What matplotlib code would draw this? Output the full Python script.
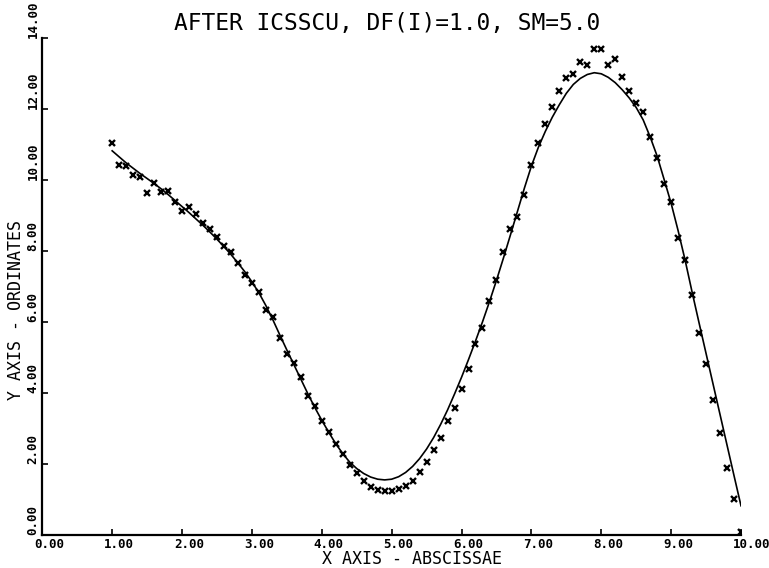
import numpy as np
import matplotlib
matplotlib.use("Agg")
import matplotlib.pyplot as plt
from matplotlib.transforms import ScaledTranslation

# data (x from 1.0 to 10.0 in steps of 0.1)
x_data = [round(1.0 + 0.1 * i, 1) for i in range(91)]
y_data = [11.04, 10.43, 10.40, 10.15, 10.08, 9.65, 9.92, 9.68, 9.70, 9.40,
          9.14, 9.24, 9.05, 8.79, 8.62, 8.41, 8.15, 7.99, 7.68, 7.33,
          7.12, 6.86, 6.35, 6.14, 5.55, 5.10, 4.85, 4.47, 3.92, 3.64,
          3.23, 2.90, 2.57, 2.29, 1.98, 1.76, 1.54, 1.37, 1.28, 1.25,
          1.25, 1.30, 1.39, 1.53, 1.77, 2.06, 2.40, 2.73, 3.23, 3.59,
          4.11, 4.68, 5.38, 5.83, 6.61, 7.19, 7.99, 8.62, 8.96, 9.59,
          10.43, 11.06, 11.58, 12.06, 12.52, 12.89, 12.99, 13.32, 13.25, 13.70,
          13.70, 13.25, 13.42, 12.92, 12.52, 12.19, 11.93, 11.21, 10.64, 9.89,
          9.40, 8.37, 7.75, 6.77, 5.71, 4.83, 3.81, 2.87, 1.90, 1.01,
          0.10]
# smoothed curve (ICSSCU result) at the same x
y_fit = [10.83, 10.66, 10.49, 10.34, 10.19, 10.05, 9.91, 9.76, 9.60, 9.43,
         9.26, 9.09, 8.91, 8.73, 8.54, 8.34, 8.13, 7.91, 7.67, 7.42,
         7.14, 6.83, 6.47, 6.07, 5.64, 5.22, 4.81, 4.40, 3.99, 3.60,
         3.24, 2.90, 2.58, 2.30, 2.06, 1.88, 1.74, 1.64, 1.58, 1.56,
         1.58, 1.65, 1.77, 1.94, 2.16, 2.43, 2.75, 3.12, 3.53, 3.98,
         4.45, 4.95, 5.47, 6.01, 6.58, 7.18, 7.81, 8.46, 9.12, 9.78,
         10.40, 10.93, 11.38, 11.78, 12.13, 12.45, 12.70, 12.87, 12.98, 13.03,
         13.00, 12.90, 12.75, 12.55, 12.32, 12.05, 11.70, 11.22, 10.68, 10.02,
         9.35, 8.58, 7.75, 6.85, 5.98, 5.12, 4.26, 3.40, 2.54, 1.68,
         0.83]

x_ticks = [0, 1, 2, 3, 4, 5, 6, 7, 8, 9, 10]
y_ticks = [0, 2, 4, 6, 8, 10, 12, 14]

mono = "DejaVu Sans Mono"

fig = plt.figure(figsize=(7.69, 5.68), dpi=100)
ax = fig.add_axes([0.055, 0.0576, 0.9086, 0.875])

ax.plot(x_data, y_fit, color="black", lw=1.2)
ax.plot(x_data, y_data, "x", color="black", ms=5, mew=1.7)

ax.set_xlim(0, 10)
ax.set_ylim(0, 14)
ax.spines["top"].set_visible(False)
ax.spines["right"].set_visible(False)
for s in ("left", "bottom"):
    ax.spines[s].set_linewidth(1.6)

ax.set_xticks(x_ticks)
ax.set_xticklabels(["%.2f" % v for v in x_ticks], fontfamily=mono,
                   fontweight="bold", fontsize=9)
ax.set_yticks(y_ticks)
ax.set_yticklabels(["%.2f" % v for v in y_ticks], fontfamily=mono,
                   fontweight="bold", fontsize=9, rotation=90, va="bottom")
ax.tick_params(direction="in", length=4, width=1.2, pad=2)

shift = ScaledTranslation(-8 / 100, 0, fig.dpi_scale_trans)
for lab in ax.get_xticklabels():
    lab.set_horizontalalignment("left")
    lab.set_transform(lab.get_transform() + shift)

fig.text(0.504, 0.9595, "AFTER ICSSCU, DF(I)=1.0, SM=5.0", fontfamily=mono,
         fontsize=16.5, ha="center", va="center")
fig.text(0.536, 0.016, "X AXIS - ABSCISSAE", fontfamily=mono, fontsize=12,
         ha="center", va="center")
fig.text(0.021, 0.454, "Y AXIS - ORDINATES", fontfamily=mono, fontsize=12,
         ha="center", va="center", rotation=90)

fig.savefig("out.png", dpi=100)
